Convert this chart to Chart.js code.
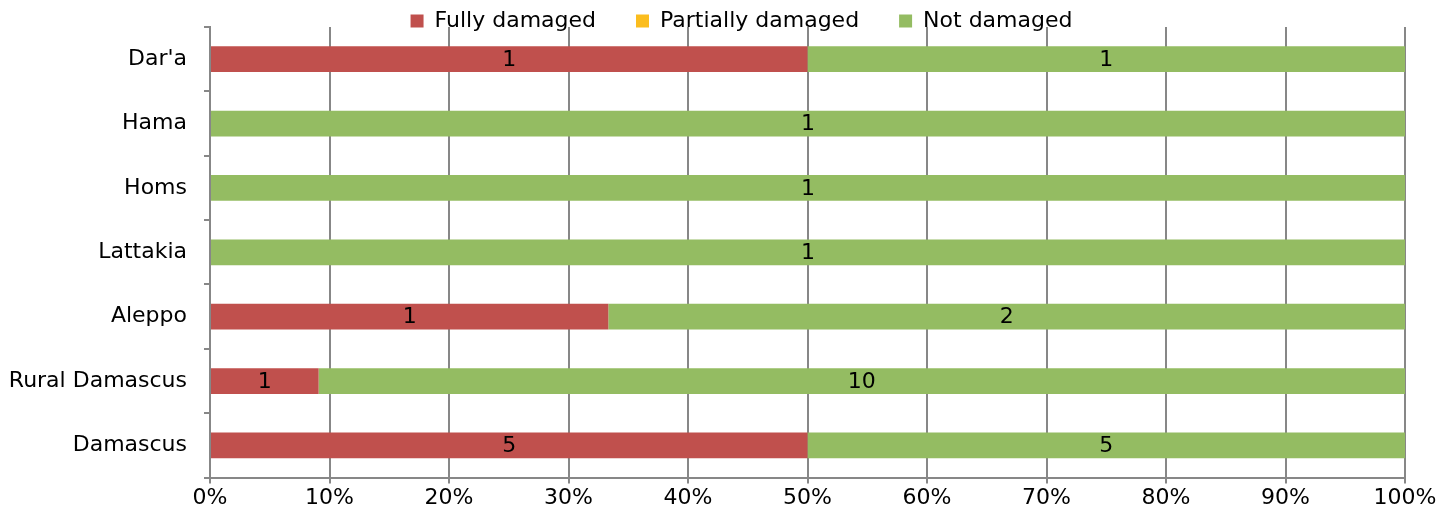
<!DOCTYPE html>
<html>
<head>
<meta charset="utf-8">
<script src="https://cdn.jsdelivr.net/npm/chart.js@4"></script>
<style>
  html, body { margin:0; padding:0; background:#fff; }
  #wrap { width:1455px; height:524px; }
</style>
</head>
<body>
<div id="wrap"><canvas id="c"></canvas></div>
<script>
// categories, top to bottom
const regions = ["Dar'a", 'Hama', 'Homs', 'Lattakia', 'Aleppo', 'Rural Damascus', 'Damascus'];
// counts per damage level
const fullyDamaged     = [1, 0, 0, 0, 1, 1, 5];
const partiallyDamaged = [0, 0, 0, 0, 0, 0, 0];
const notDamaged       = [1, 1, 1, 1, 2, 10, 5];
const xTicks = [0, 10, 20, 30, 40, 50, 60, 70, 80, 90, 100];

const FONT = 'DejaVu Sans';
const FSIZE = 22;
const totals = regions.map((r,i)=>fullyDamaged[i]+partiallyDamaged[i]+notDamaged[i]);
const pct = arr => arr.map((v,i)=> totals[i] ? v/totals[i]*100 : 0);

// draws the count in the middle of each non-empty segment
const countLabels = {
  id:'countLabels',
  afterDatasetsDraw(chart){
    const ctx = chart.ctx;
    ctx.save();
    ctx.font = FSIZE+'px "'+FONT+'"';
    ctx.fillStyle = '#000';
    ctx.textAlign = 'center';
    ctx.textBaseline = 'middle';
    chart.data.datasets.forEach((ds, di)=>{
      chart.getDatasetMeta(di).data.forEach((bar, i)=>{
        const n = ds.counts[i];
        if(!n) return;
        ctx.fillText(String(n), (bar.x + bar.base)/2, bar.y + 1);
      });
    });
    ctx.restore();
  }
};

// legend overlaps the top of the plot like the original: wide gaps, short box,
// centred a bit right of the canvas middle
const legendHeight = {
  id:'legendHeight',
  afterInit(chart){
    const lg = chart.legend; if(!lg) return;
    const fit = lg.fit.bind(lg), draw = lg.draw.bind(lg);
    lg.fit = function(){ fit(); this.height = 57; };
    lg.draw = function(){
      const b = this.bottom, l = this.left, r = this.right;
      this.bottom = b + 40; this.left = l + 35; this.right = r + 35;
      draw();
      this.bottom = b; this.left = l; this.right = r;
    };
  }
};

new Chart(document.getElementById('c'), {
  type:'bar',
  data:{
    labels: regions,
    datasets:[
      {label:'Fully damaged', data:pct(fullyDamaged), counts:fullyDamaged, backgroundColor:'#C0504D'},
      {label:'Partially damaged', data:pct(partiallyDamaged), counts:partiallyDamaged, backgroundColor:'#FBBD1E'},
      {label:'Not damaged', data:pct(notDamaged), counts:notDamaged, backgroundColor:'#94BC62'}
    ]
  },
  options:{
    indexAxis:'y',
    responsive:true,
    maintainAspectRatio:false,
    animation:false,
    datasets:{bar:{categoryPercentage:0.8, barPercentage:0.5, borderWidth:0}},
    layout:{padding:{left:8, right:50, top:-30, bottom:12}},
    plugins:{
      legend:{
        position:'top',
        labels:{font:{family:FONT, size:FSIZE}, color:'#000', boxWidth:13, boxHeight:13, padding:40, useBorderRadius:false}
      },
      tooltip:{enabled:false}
    },
    scales:{
      x:{
        stacked:true, min:0, max:100,
        afterBuildTicks: ax => { ax.ticks = xTicks.map(v=>({value:v})); },
        ticks:{font:{family:FONT, size:FSIZE}, color:'#000', callback:v=>v+'%', padding:1},
        grid:{color:'#878787', lineWidth:2, tickLength:6, drawTicks:true},
        border:{color:'#878787', width:2}
      },
      y:{
        stacked:true,
        afterFit: ax => { ax.width = 202; ax.paddingTop = 0; ax.paddingBottom = 0; },
        ticks:{font:{family:FONT, size:FSIZE}, color:'#000', padding:17},
        grid:{drawOnChartArea:false, offset:true, color:'#878787', lineWidth:2, tickLength:6},
        border:{color:'#878787', width:2}
      }
    }
  },
  plugins:[countLabels, legendHeight]
});
</script>
</body>
</html>
